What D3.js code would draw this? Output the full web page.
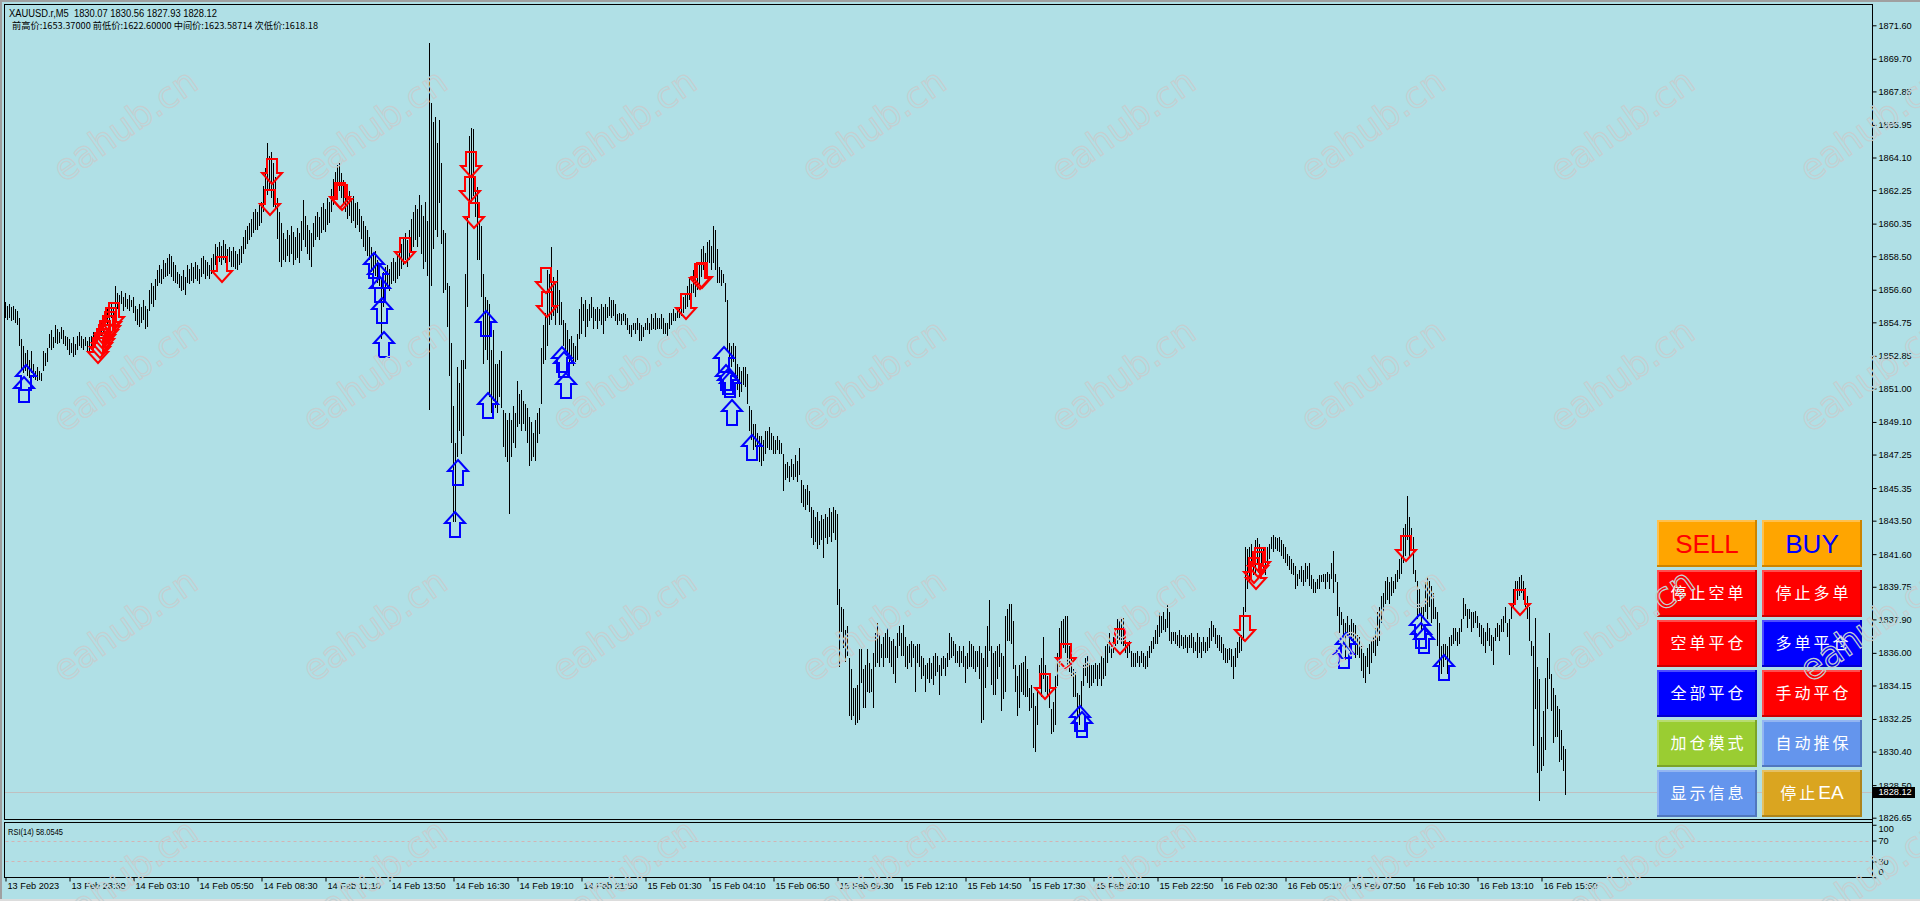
<!DOCTYPE html>
<html><head><meta charset="utf-8">
<script src="https://cdn.jsdelivr.net/npm/d3@7"></script>
<style>html,body{margin:0;padding:0;background:#B0E0E6;overflow:hidden}</style>
</head><body>
<svg id="c" width="1920" height="901"></svg>
<script>
// ---------------- DATA ----------------
const symbolTitle = "XAUUSD.r,M5  1830.07 1830.56 1827.93 1828.12";
const infoLine = "前高价:1653.37000 前低价:1622.60000 中间价:1623.58714 次低价:1618.18";
const rsiTitle = "RSI(14) 58.0545";
const lastPrice = 1828.12;

const barHigh = [
1855.9,1855.7,1855.8,1855.6,1855.7,1855.5,1855.4,1855.0,1853.8,1853.4,
1853.0,1853.2,1852.6,1853.1,1852.4,1852.0,1852.2,1852.0,1851.9,1853.1,
1853.0,1853.3,1854.1,1854.3,1853.9,1854.6,1854.4,1854.2,1854.5,1854.3,
1854.0,1853.9,1853.8,1853.6,1853.9,1853.5,1854.0,1854.2,1854.0,1853.8,
1853.9,1853.7,1853.9,1854.0,1854.2,1854.1,1854.4,1854.6,1854.8,1855.0,
1855.3,1855.5,1855.6,1855.8,1855.6,1856.8,1856.4,1856.3,1856.5,1856.2,
1856.4,1856.1,1856.3,1856.0,1856.2,1855.7,1855.5,1855.8,1855.6,1856.0,
1855.7,1855.5,1856.6,1857.0,1856.8,1857.2,1857.7,1858.0,1857.8,1858.3,
1858.1,1858.4,1858.6,1858.5,1858.2,1858.0,1857.6,1857.5,1857.4,1857.7,
1857.3,1858.0,1857.8,1858.1,1857.9,1858.2,1858.0,1857.8,1858.4,1858.5,
1858.3,1858.2,1858.0,1858.4,1858.6,1859.2,1859.0,1859.3,1859.1,1859.4,
1859.2,1858.9,1859.0,1858.8,1859.0,1858.8,1858.6,1858.9,1859.1,1859.6,
1860.0,1860.2,1860.4,1860.6,1861.0,1861.2,1861.0,1861.4,1861.6,1862.5,
1863.5,1864.9,1864.2,1864.4,1863.8,1863.0,1861.8,1861.0,1860.4,1859.8,
1859.5,1860.0,1859.7,1860.2,1859.9,1859.6,1860.1,1859.8,1860.5,1861.7,
1860.8,1860.3,1860.0,1859.8,1860.4,1860.8,1861.0,1860.7,1861.3,1861.5,
1861.2,1861.8,1861.6,1862.3,1862.9,1863.3,1863.7,1863.8,1863.2,1862.8,
1862.4,1862.0,1862.2,1861.8,1861.9,1861.5,1861.6,1861.2,1860.8,1860.5,
1860.2,1860.0,1859.6,1859.0,1858.6,1858.8,1858.3,1858.0,1857.2,1857.6,
1857.9,1858.0,1857.8,1858.2,1858.4,1858.2,1858.6,1858.8,1859.2,1859.5,
1859.8,1859.4,1860.0,1860.6,1861.0,1861.4,1861.2,1862.0,1861.4,1860.8,
1861.6,1860.5,1870.6,1867.2,1866.1,1866.4,1864.9,1866.2,1863.8,1860.0,
1859.8,1857.0,1856.8,1853.6,1850.0,1847.9,1852.2,1851.3,1852.6,1852.6,
1857.5,1860.7,1865.3,1865.8,1865.7,1862.6,1862.4,1860.4,1860.2,1857.5,
1856.2,1856.0,1855.8,1853.2,1854.3,1852.4,1852.4,1852.6,1853.1,1849.8,
1849.6,1849.2,1849.6,1849.2,1850.0,1849.6,1851.4,1850.7,1850.9,1850.3,
1850.1,1849.9,1849.4,1849.1,1848.5,1849.2,1849.6,1849.9,1853.3,1854.6,
1855.3,1857.7,1857.5,1859.0,1857.3,1856.9,1857.7,1856.6,1855.9,1854.9,
1854.7,1854.3,1853.8,1854.0,1853.6,1853.4,1854.1,1855.5,1856.2,1855.8,
1856.0,1855.5,1855.8,1856.2,1855.6,1855.5,1855.6,1855.5,1855.8,1855.6,
1855.8,1855.6,1856.2,1856.0,1856.0,1855.8,1855.2,1855.3,1855.2,1855.3,
1855.2,1855.0,1854.6,1854.6,1854.7,1854.7,1855.0,1854.7,1854.6,1854.5,
1854.7,1855.0,1854.7,1855.2,1855.0,1855.3,1855.0,1855.0,1855.2,1855.0,
1854.7,1854.7,1855.3,1855.3,1855.5,1855.3,1855.6,1855.6,1856.0,1856.2,
1856.4,1856.8,1857.3,1856.9,1857.7,1857.3,1857.7,1858.1,1858.9,1859.1,
1858.7,1859.3,1859.4,1859.1,1860.2,1860.0,1858.9,1857.9,1857.7,1857.5,
1857.0,1856.0,1853.6,1853.4,1853.6,1853.4,1852.4,1852.2,1852.0,1852.2,
1852.2,1851.8,1850.0,1849.8,1849.0,1849.0,1848.5,1848.3,1848.3,1848.1,
1848.6,1848.6,1848.8,1848.5,1848.3,1848.1,1848.3,1848.1,1847.9,1847.3,
1846.7,1846.8,1846.6,1847.0,1846.7,1847.2,1846.9,1847.6,1845.8,1845.5,
1845.3,1845.5,1845.2,1844.3,1844.1,1843.7,1844.0,1843.5,1843.8,1843.6,
1843.9,1843.7,1844.2,1844.0,1844.3,1844.1,1843.9,1839.6,1838.6,1838.5,
1837.3,1837.5,1835.7,1835.1,1834.0,1834.0,1834.2,1836.2,1836.2,1835.1,
1835.3,1836.2,1835.4,1835.1,1836.0,1837.1,1837.7,1837.1,1836.5,1836.9,
1837.1,1837.4,1836.9,1836.7,1836.8,1836.4,1837.1,1837.5,1837.1,1837.6,
1836.9,1836.4,1836.5,1836.7,1836.5,1836.4,1836.5,1836.5,1835.8,1835.7,
1835.3,1835.4,1835.7,1835.4,1835.8,1836.0,1835.8,1835.3,1835.7,1835.8,
1835.7,1836.0,1837.1,1836.9,1836.7,1836.5,1836.1,1836.4,1836.1,1836.4,
1835.8,1836.0,1836.7,1836.5,1836.4,1836.1,1836.1,1836.4,1836.0,1835.7,
1836.4,1837.5,1839.0,1836.4,1836.0,1836.1,1836.4,1836.5,1836.0,1835.8,
1838.1,1838.5,1838.8,1838.8,1837.8,1835.3,1834.7,1835.3,1835.4,1835.5,
1835.8,1835.1,1834.0,1834.2,1833.7,1833.0,1834.0,1835.3,1835.7,1836.9,
1835.3,1834.7,1834.0,1832.8,1833.2,1834.7,1836.0,1837.4,1837.8,1837.9,
1838.1,1838.1,1836.4,1835.7,1835.1,1834.9,1833.7,1833.6,1834.4,1835.3,
1835.7,1835.8,1835.4,1835.3,1835.3,1835.4,1835.3,1835.4,1835.8,1835.7,
1836.4,1836.5,1837.1,1836.5,1836.9,1837.3,1837.9,1837.8,1837.9,1838.0,
1837.1,1836.5,1836.7,1836.1,1836.0,1836.0,1836.1,1835.8,1836.1,1836.0,
1835.8,1836.1,1836.4,1836.7,1836.9,1837.3,1837.6,1838.3,1838.1,1838.3,
1837.9,1838.7,1838.3,1837.2,1837.2,1837.2,1837.0,1837.3,1837.0,1836.9,
1837.0,1836.9,1837.0,1837.1,1836.9,1836.6,1837.1,1836.9,1836.6,1836.9,
1836.6,1836.9,1837.4,1837.8,1837.6,1837.4,1837.0,1837.0,1836.9,1836.5,
1836.3,1836.2,1836.3,1836.2,1835.8,1836.3,1836.6,1836.9,1837.0,1838.6,
1842.0,1841.9,1842.0,1842.2,1841.6,1842.4,1842.5,1842.2,1842.0,1841.9,
1841.6,1842.0,1842.2,1842.6,1842.7,1842.6,1842.5,1842.6,1842.4,1842.2,
1842.0,1841.6,1841.5,1841.3,1841.1,1840.9,1840.5,1840.7,1840.9,1840.7,
1841.1,1840.9,1841.1,1840.4,1840.2,1840.0,1840.2,1840.4,1840.4,1840.5,
1840.5,1840.6,1840.5,1841.1,1841.8,1840.5,1840.0,1838.6,1838.3,1837.9,
1837.7,1838.1,1837.6,1837.9,1837.7,1837.6,1837.0,1836.9,1836.4,1836.0,
1835.8,1836.3,1836.5,1836.7,1836.9,1837.4,1838.3,1838.6,1839.2,1839.4,
1840.1,1840.3,1840.0,1840.3,1840.1,1840.5,1840.7,1841.3,1841.5,1843.1,
1843.3,1844.9,1843.7,1843.1,1842.6,1840.7,1840.1,1839.6,1838.6,1838.6,
1840.0,1840.3,1840.1,1839.8,1839.4,1838.6,1838.3,1837.7,1836.4,1836.5,
1836.5,1836.4,1836.9,1837.0,1837.4,1837.4,1837.2,1837.4,1837.9,1839.1,
1838.8,1838.5,1838.5,1838.3,1838.3,1838.4,1838.1,1837.7,1837.6,1837.4,
1837.2,1837.7,1837.4,1837.0,1836.9,1837.4,1837.7,1837.6,1837.9,1838.1,
1838.6,1837.7,1837.9,1838.8,1839.6,1840.1,1840.1,1840.3,1840.4,1840.1,
1839.7,1839.2,1838.6,1836.7,1836.4,1838.0,1835.2,1834.5,1831.2,1832.7,
1834.6,1835.7,1837.1,1834.8,1834.0,1833.6,1833.0,1832.8,1831.6,1830.7,
1830.56
];

const barLow = [
1855.0,1854.9,1855.0,1854.8,1854.9,1854.7,1854.6,1853.4,1852.1,1851.9,
1852.0,1851.7,1851.6,1851.9,1851.6,1851.5,1851.4,1851.5,1851.4,1852.0,
1852.3,1852.5,1853.3,1853.2,1853.3,1853.6,1853.5,1853.6,1853.8,1853.5,
1853.4,1853.2,1852.9,1853.0,1852.8,1852.9,1853.2,1853.4,1853.3,1853.2,
1853.4,1853.1,1853.0,1853.2,1853.3,1853.4,1853.6,1853.7,1854.0,1854.2,
1854.4,1854.6,1854.8,1855.0,1855.0,1855.4,1855.5,1855.6,1855.8,1855.4,
1855.6,1855.5,1855.4,1855.6,1855.3,1854.8,1854.6,1854.5,1854.7,1854.9,
1854.4,1854.5,1855.4,1855.8,1855.6,1856.0,1856.8,1857.0,1856.9,1857.2,
1857.3,1857.4,1857.5,1857.3,1857.1,1857.0,1856.9,1856.7,1856.5,1856.6,
1856.3,1857.0,1856.9,1857.1,1857.0,1857.2,1857.1,1856.9,1857.3,1857.5,
1857.2,1857.4,1857.2,1857.5,1857.6,1858.0,1858.0,1858.2,1858.0,1858.3,
1858.1,1857.9,1858.2,1857.9,1857.9,1857.8,1857.7,1858.0,1858.1,1858.6,
1858.9,1859.2,1859.4,1859.6,1859.8,1860.0,1860.0,1860.2,1860.4,1861.0,
1861.5,1862.0,1862.2,1861.8,1861.3,1861.2,1859.5,1858.2,1857.9,1858.3,
1858.2,1858.5,1858.2,1858.6,1858.0,1858.3,1858.4,1858.1,1858.8,1859.4,
1859.0,1858.6,1858.3,1857.9,1859.0,1859.4,1859.6,1859.4,1859.8,1860.0,
1859.9,1860.3,1860.4,1861.0,1861.4,1861.7,1862.0,1862.2,1861.8,1861.4,
1861.0,1860.6,1860.8,1860.4,1860.5,1860.1,1860.3,1859.9,1859.5,1859.0,
1858.8,1858.5,1858.3,1857.6,1857.2,1857.4,1857.0,1856.8,1853.8,1855.6,
1856.2,1856.7,1856.5,1856.9,1857.1,1857.0,1857.2,1857.4,1857.8,1858.0,
1858.3,1857.9,1858.3,1858.8,1859.0,1859.4,1859.0,1859.6,1858.6,1857.8,
1858.2,1857.4,1849.8,1856.8,1858.9,1860.0,1859.6,1861.5,1859.2,1856.4,
1856.6,1854.5,1851.7,1847.9,1843.4,1843.4,1847.1,1848.6,1847.3,1848.3,
1852.1,1855.6,1860.7,1861.5,1861.9,1860.7,1858.3,1858.3,1856.2,1852.4,
1853.2,1852.6,1850.5,1849.6,1850.3,1849.9,1849.6,1850.5,1849.9,1847.7,
1847.1,1846.8,1843.9,1847.1,1847.9,1847.6,1848.8,1849.0,1848.6,1849.0,
1848.6,1847.9,1846.6,1846.9,1847.1,1846.9,1847.9,1848.4,1850.1,1852.4,
1852.6,1853.4,1854.6,1854.9,1855.1,1854.6,1855.3,1854.6,1854.6,1853.4,
1853.2,1852.4,1852.2,1852.5,1852.3,1852.5,1852.6,1853.8,1854.1,1854.8,
1853.9,1854.5,1854.8,1855.0,1854.4,1854.8,1854.4,1854.8,1854.6,1854.1,
1854.8,1855.0,1855.1,1855.0,1855.1,1854.8,1854.6,1854.8,1854.6,1854.8,
1854.6,1854.3,1854.1,1853.9,1854.3,1854.1,1854.3,1853.7,1853.7,1853.9,
1854.3,1854.3,1854.1,1854.3,1854.4,1854.3,1854.4,1854.4,1854.4,1854.1,
1854.1,1853.9,1854.4,1854.6,1854.8,1854.8,1855.0,1855.0,1855.1,1855.3,
1855.5,1855.6,1856.0,1855.8,1856.4,1856.2,1856.6,1856.8,1857.3,1857.7,
1857.3,1857.7,1858.1,1857.7,1858.1,1857.7,1857.0,1857.0,1856.8,1857.0,
1855.9,1853.2,1851.9,1852.2,1852.5,1851.7,1850.9,1850.5,1850.8,1851.2,
1851.1,1850.1,1848.6,1848.1,1847.5,1847.7,1846.9,1846.8,1846.6,1846.9,
1847.3,1847.6,1847.5,1847.5,1847.3,1847.3,1847.5,1847.3,1847.3,1845.2,
1845.8,1845.9,1845.7,1846.0,1845.8,1846.0,1845.7,1846.1,1844.5,1844.3,
1844.1,1844.4,1844.0,1842.5,1842.1,1842.3,1841.9,1842.1,1842.4,1841.4,
1842.5,1842.2,1842.6,1842.3,1842.8,1842.4,1838.7,1835.2,1837.2,1836.3,
1835.5,1835.8,1832.4,1832.2,1832.4,1831.9,1832.0,1832.2,1834.3,1832.9,
1832.9,1833.8,1833.7,1833.8,1832.9,1835.2,1835.4,1835.2,1835.7,1835.2,
1835.7,1835.7,1835.4,1835.2,1834.8,1834.3,1835.7,1836.4,1835.8,1835.8,
1835.2,1835.1,1835.4,1835.2,1835.7,1833.8,1835.4,1835.2,1834.5,1834.7,
1833.8,1834.5,1834.3,1834.5,1834.2,1834.7,1834.9,1833.6,1834.7,1835.1,
1834.7,1835.2,1835.6,1835.7,1835.8,1835.4,1835.4,1835.2,1835.4,1835.2,
1834.3,1835.1,1835.2,1835.2,1835.1,1834.9,1835.2,1834.5,1832.0,1832.2,
1834.0,1835.2,1836.1,1834.2,1833.6,1833.6,1834.5,1835.2,1832.7,1833.4,
1833.8,1836.7,1836.7,1836.5,1835.1,1833.8,1832.4,1832.9,1833.8,1833.6,
1833.5,1833.5,1832.7,1832.9,1830.6,1830.4,1831.9,1834.1,1833.5,1834.5,
1833.8,1833.5,1832.9,1831.4,1831.5,1831.9,1834.1,1835.2,1836.1,1836.3,
1836.0,1835.2,1834.9,1834.7,1833.5,1833.5,1832.4,1831.9,1832.9,1834.1,
1834.7,1834.3,1834.0,1834.1,1834.3,1834.5,1834.1,1834.5,1834.1,1834.5,
1834.7,1835.4,1836.0,1835.7,1836.0,1836.4,1836.5,1836.7,1836.5,1836.4,
1836.0,1835.7,1836.0,1835.2,1835.2,1835.2,1835.4,1835.2,1835.4,1835.2,
1835.1,1835.2,1835.7,1836.0,1836.2,1836.5,1836.5,1836.9,1837.1,1837.3,
1837.2,1837.4,1836.7,1836.5,1836.7,1836.5,1836.4,1836.3,1836.4,1836.2,
1836.3,1836.0,1836.3,1836.3,1836.0,1836.1,1835.7,1836.0,1835.7,1836.1,
1836.0,1836.1,1836.3,1836.7,1836.9,1836.5,1836.3,1836.1,1836.0,1835.6,
1835.4,1835.4,1835.6,1835.2,1834.5,1835.2,1835.7,1836.0,1836.1,1836.7,
1838.3,1839.6,1840.0,1840.2,1840.4,1840.5,1841.0,1840.5,1840.9,1840.7,
1840.4,1840.9,1841.3,1841.9,1841.7,1841.9,1841.8,1841.7,1841.5,1841.3,
1841.1,1840.9,1840.7,1840.5,1840.4,1839.6,1839.8,1840.2,1840.0,1839.8,
1840.0,1840.2,1839.8,1839.6,1839.4,1839.4,1839.6,1839.6,1840.0,1840.0,
1839.6,1840.0,1839.6,1840.2,1839.4,1840.0,1838.1,1837.1,1837.6,1836.5,
1835.6,1837.0,1836.1,1836.7,1836.5,1835.7,1835.9,1835.7,1835.0,1834.6,
1834.3,1835.2,1834.8,1835.4,1836.0,1835.8,1836.4,1836.7,1837.7,1838.3,
1838.8,1839.0,1838.8,1839.2,1839.4,1839.6,1840.0,1840.2,1840.5,1841.1,
1841.5,1842.4,1841.5,1842.0,1840.5,1840.0,1837.9,1838.1,1837.2,1837.9,
1838.3,1837.9,1838.6,1837.7,1837.9,1837.9,1836.4,1834.7,1834.8,1835.2,
1835.6,1834.8,1835.6,1836.4,1836.5,1836.7,1836.4,1836.5,1837.2,1837.9,
1838.1,1837.4,1837.9,1837.2,1837.4,1837.7,1837.4,1836.9,1836.5,1836.4,
1836.0,1836.7,1836.4,1836.1,1835.3,1836.7,1836.9,1836.7,1837.2,1837.2,
1837.7,1836.9,1835.9,1837.9,1838.6,1838.8,1839.0,1839.2,1839.4,1839.0,
1838.6,1837.9,1836.7,1835.8,1830.7,1832.8,1829.2,1827.6,1829.3,1829.6,
1830.5,1832.8,1834.5,1832.7,1830.9,1831.2,1831.2,1829.8,1829.9,1829.3,
1827.93
];

// signal arrows: bar index + price of the arrow tip
const sellBars = [46,47,48,49,50,51,52,53,54,108,132,133,167,168,200,232,233,234,270,271,340,347,348,520,530,557,620,624,625,626,627,700,757];
const sellPrices = [1852.45,1852.73,1852.96,1853.18,1853.41,1853.69,1853.92,1854.15,1854.43,1857.04,1860.84,1862.60,1861.24,1861.13,1858.12,1861.58,1863.00,1860.10,1856.42,1855.06,1854.94,1856.65,1856.70,1833.40,1835.07,1835.94,1836.68,1839.97,1839.63,1840.31,1840.53,1841.21,1838.15];
const buyBars = [9,10,184,186,187,188,189,225,226,240,241,278,279,280,359,360,361,362,363,373,537,538,669,670,707,708,709,719];
const buyPrices = [1851.65,1852.33,1858.69,1858.12,1857.33,1856.13,1854.21,1844.00,1846.94,1855.40,1850.75,1853.35,1853.07,1851.88,1853.35,1852.33,1852.11,1851.94,1850.35,1848.36,1832.98,1832.63,1836.56,1837.13,1838.21,1837.70,1837.41,1835.88];

const priceTicks = [1871.60,1869.70,1867.85,1865.95,1864.10,1862.25,1860.35,1858.50,1856.60,1854.75,1852.85,1851.00,1849.10,1847.25,1845.35,1843.50,1841.60,1839.75,1837.90,1836.00,1834.15,1832.25,1830.40,1828.50,1826.65];
const timeLabels = ["13 Feb 2023","13 Feb 23:30","14 Feb 03:10","14 Feb 05:50","14 Feb 08:30","14 Feb 11:10","14 Feb 13:50","14 Feb 16:30","14 Feb 19:10","14 Feb 21:50","15 Feb 01:30","15 Feb 04:10","15 Feb 06:50","15 Feb 09:30","15 Feb 12:10","15 Feb 14:50","15 Feb 17:30","15 Feb 20:10","15 Feb 22:50","16 Feb 02:30","16 Feb 05:10","16 Feb 07:50","16 Feb 10:30","16 Feb 13:10","16 Feb 15:50"];
const timeTickBars = [0,32,64,96,128,160,192,224,256,288,320,352,384,416,448,480,512,544,576,608,640,672,704,736,768];
const rsiTicks = [100,70,30,0];
const rsiLevels = [70,30];

const buttonLabels = ["SELL","BUY","停止空单","停止多单","空单平仓","多单平仓","全部平仓","手动平仓","加仓模式","自动推保","显示信息","停止EA"];
const watermarkText = "eahub.cn";

// ---------------- STYLE ----------------
const BG = "#B0E0E6";
const buttonFills = ["#FFA500","#FFA500","#FF0000","#FF0000","#FF0000","#0000FF","#0000FF","#FF0000","#9ACD32","#6495ED","#6495ED","#DAA520"];
const buttonText = ["#FF0000","#0000FF","#FFFFFF","#FFFFFF","#FFFFFF","#FFFFFF","#FFFFFF","#FFFFFF","#FFFFFF","#FFFFFF","#FFFFFF","#FFFFFF"];
const AXFONT = "'Liberation Sans', Arial, sans-serif";
const CJKFONT = "'Noto Sans CJK SC', sans-serif";

const svg = d3.select("#c");
svg.append("rect").attr("width",1920).attr("height",901).attr("fill",BG);
svg.append("rect").attr("x",0).attr("y",0).attr("width",1920).attr("height",2).attr("fill","#A0A0A0");
svg.append("rect").attr("x",0).attr("y",0).attr("width",2).attr("height",901).attr("fill","#A0A0A0");
svg.append("rect").attr("x",0).attr("y",899).attr("width",1920).attr("height",2).attr("fill","#DCDCDC");

const plotL = 4.5, plotR = 1872.5, mainT = 4.5, mainB = 819.5, rsiT = 822.5, rsiB = 877.5;

const x = d3.scaleLinear().domain([0, 780]).range([5.5, 1565.5]);
const y = d3.scaleLinear().domain([1826.65, 1871.60]).range([817.7, 25.3]);
const yr = d3.scaleLinear().domain([0, 100]).range([877.25, 824.75]);

// current price line
const yLast = Math.round(y(lastPrice)) + 0.5;
svg.append("line").attr("x1",plotL).attr("x2",plotR).attr("y1",yLast).attr("y2",yLast)
  .attr("stroke","#C0C0C0").attr("stroke-width",1);

// bars (high-low)
svg.append("g").attr("shape-rendering","crispEdges")
  .selectAll("rect").data(barHigh).join("rect")
  .attr("x",(d,i)=>Math.round(x(i)-0.5))
  .attr("y",d=>Math.round(y(d)))
  .attr("width",1)
  .attr("height",(d,i)=>Math.max(1, Math.round(y(barLow[i])) - Math.round(y(d))))
  .attr("fill","#000");

// arrows
const upPath = "M0,0 L10,11 L5,11 L5,25 L-5,25 L-5,11 L-10,11 Z";
const downPath = "M0,0 L10,-11 L5,-11 L5,-25 L-5,-25 L-5,-11 L-10,-11 Z";
const gA = svg.append("g");
gA.selectAll("path.sell").data(sellBars).join("path").attr("class","sell")
  .attr("d",downPath)
  .attr("transform",(d,i)=>`translate(${Math.round(x(d))},${Math.round(y(sellPrices[i]))})`)
  .attr("fill","none").attr("stroke","#FF0000").attr("stroke-width",2);
gA.selectAll("path.buy").data(buyBars).join("path").attr("class","buy")
  .attr("d",upPath)
  .attr("transform",(d,i)=>`translate(${Math.round(x(d))},${Math.round(y(buyPrices[i]))})`)
  .attr("fill","none").attr("stroke","#0000FF").attr("stroke-width",2);

// frames
svg.append("rect").attr("x",plotL).attr("y",mainT).attr("width",plotR-plotL).attr("height",mainB-mainT)
  .attr("fill","none").attr("stroke","#000").attr("shape-rendering","crispEdges");
svg.append("rect").attr("x",plotL).attr("y",rsiT).attr("width",plotR-plotL).attr("height",rsiB-rsiT)
  .attr("fill","none").attr("stroke","#000").attr("shape-rendering","crispEdges");

// RSI level lines
svg.append("g").selectAll("line").data(rsiLevels).join("line")
  .attr("x1",plotL+1).attr("x2",plotR-1)
  .attr("y1",d=>Math.round(yr(d))+0.5).attr("y2",d=>Math.round(yr(d))+0.5)
  .attr("stroke","#D2B4B4").attr("stroke-dasharray","3,3");

// price axis
const pAx = svg.append("g").attr("transform",`translate(${plotR},0)`)
  .call(d3.axisRight(y).tickValues(priceTicks).tickSize(4).tickPadding(2).tickFormat(d3.format(".2f")));
pAx.select(".domain").remove();
pAx.selectAll("line").attr("stroke","#000");
pAx.selectAll("text").attr("fill","#000").style("font",`9.2px ${AXFONT}`);

// RSI axis
const rAx = svg.append("g").attr("transform",`translate(${plotR},0)`)
  .call(d3.axisRight(yr).tickValues(rsiTicks).tickSize(4).tickPadding(2));
rAx.select(".domain").remove();
rAx.selectAll("line").attr("stroke","#000");
rAx.selectAll("text").attr("fill","#000").style("font",`9.2px ${AXFONT}`)
  .attr("y",d=>Math.min(Math.max(yr(d),829),872)-yr(d));

// vertical axis line
svg.append("line").attr("x1",plotR).attr("x2",plotR).attr("y1",mainT).attr("y2",rsiB)
  .attr("stroke","#000").attr("shape-rendering","crispEdges");

// time axis
const tAx = svg.append("g").attr("transform",`translate(0,${rsiB})`)
  .call(d3.axisBottom(x).tickValues(timeTickBars).tickSize(4)
    .tickFormat(d=>timeLabels[timeTickBars.indexOf(d)]));
tAx.select(".domain").remove();
tAx.selectAll("line").attr("stroke","#000");
tAx.selectAll("text").attr("fill","#000").style("font",`9.2px ${AXFONT}`)
  .attr("text-anchor","start").attr("x",1.5).attr("y",5);

// last price box
svg.append("rect").attr("x",1873).attr("y",Math.round(y(lastPrice))-5).attr("width",42).attr("height",11).attr("fill","#000");
svg.append("text").attr("x",1878.5).attr("y",y(lastPrice)).attr("dy","0.34em")
  .attr("fill","#fff").style("font",`9.2px ${AXFONT}`).text(lastPrice.toFixed(2));

// titles
svg.append("text").attr("x",9).attr("y",16.5).style("white-space","pre")
  .attr("textLength",208).attr("lengthAdjust","spacingAndGlyphs")
  .style("font",`10px ${AXFONT}`).attr("fill","#000").text(symbolTitle);
svg.append("text").attr("x",12).attr("y",28.5)
  .attr("textLength",306).attr("lengthAdjust","spacingAndGlyphs")
  .style("font",`9.5px ${CJKFONT}`).attr("fill","#000").text(infoLine);
svg.append("text").attr("x",8).attr("y",834.5)
  .attr("textLength",55).attr("lengthAdjust","spacingAndGlyphs")
  .style("font",`9.2px ${AXFONT}`).attr("fill","#000").text(rsiTitle);

// buttons
const gB = svg.append("g").attr("shape-rendering","crispEdges");
buttonLabels.forEach((lab,k)=>{
  const bx = 1657 + (k%2)*105, by = 520 + Math.floor(k/2)*50, bw = 100, bh = 47;
  const base = buttonFills[k];
  const light = d3.interpolateRgb(base,"#ffffff")(0.3);
  const dark = d3.interpolateRgb(base,"#000000")(0.2);
  const g = gB.append("g");
  g.append("rect").attr("x",bx).attr("y",by).attr("width",bw).attr("height",bh).attr("fill",base);
  g.append("rect").attr("x",bx).attr("y",by).attr("width",bw).attr("height",2).attr("fill",light);
  g.append("rect").attr("x",bx).attr("y",by).attr("width",2).attr("height",bh).attr("fill",light);
  g.append("rect").attr("x",bx).attr("y",by+bh-2).attr("width",bw).attr("height",2).attr("fill",dark);
  g.append("rect").attr("x",bx+bw-2).attr("y",by).attr("width",2).attr("height",bh).attr("fill",dark);
  const t = g.append("text").attr("y",by+bh/2).attr("dy","0.36em")
    .attr("text-anchor","middle").attr("fill",buttonText[k]).attr("shape-rendering","auto");
  if (k < 2) {
    t.attr("x",bx+bw/2).style("font",`26px ${AXFONT}`).text(lab);
  } else {
    // split CJK part and Latin part (e.g. "停止EA")
    const m = lab.match(/^([^A-Za-z]*)([A-Za-z]*)$/);
    const cjk = m ? m[1] : lab, lat = m ? m[2] : "";
    t.attr("x",bx+bw/2 + (lat ? 0 : 1.5));
    t.append("tspan").style("font",`16px ${CJKFONT}`).style("letter-spacing","3px").text(cjk);
    if (lat) t.append("tspan").style("font",`19px ${AXFONT}`).style("letter-spacing","0px").text(lat);
  }
});

// watermarks
const gW = svg.append("g").attr("pointer-events","none");
for (let m = 0; m < 4; m++) {
  for (let k = 0; k < 8; k++) {
    gW.append("text")
      .attr("transform",`translate(${125+249.5*k},${125+250*m}) rotate(-35)`)
      .attr("text-anchor","middle").attr("dy","0.35em")
      .style("font","36px 'DejaVu Sans', sans-serif")
      .attr("fill","none").attr("stroke","#C4CFD1").attr("stroke-width",1.2)
      .text(watermarkText);
  }
}
</script>
</body></html>
